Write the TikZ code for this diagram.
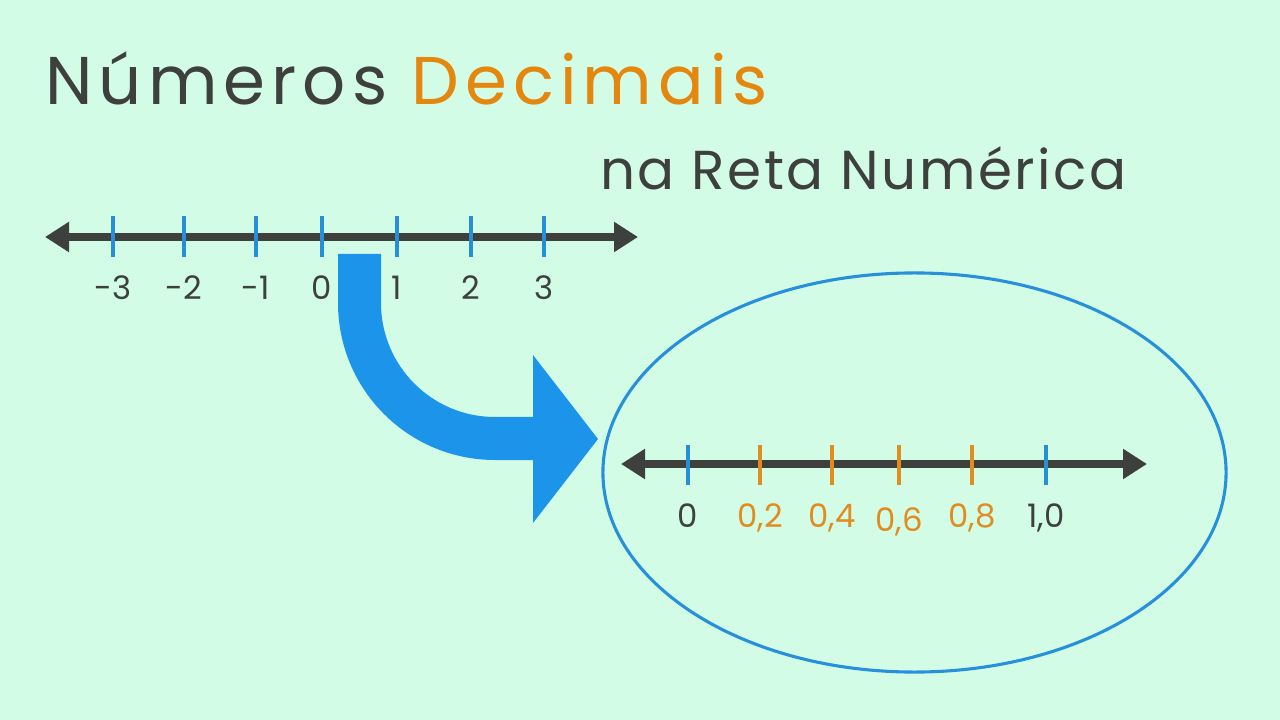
\documentclass[tikz,border=0pt]{standalone}
\usepackage{fontspec}
\setmainfont{Poppins}
\newfontfamily\titlefont{Poppins}[LetterSpace=9]
\newfontfamily\subtitlefont{Poppins}[LetterSpace=4.5]
\usetikzlibrary{arrows.meta}
\usetikzlibrary{shapes}

\definecolor{bgmint}{RGB}{211,252,230}
\definecolor{inkgray}{RGB}{62,64,62}
\definecolor{numorange}{RGB}{228,135,15}
\definecolor{tickorange}{RGB}{224,140,30}
\definecolor{tickblue}{RGB}{40,142,214}
\definecolor{arrowblue}{RGB}{27,148,234}
\definecolor{ringblue}{RGB}{40,144,218}

\begin{document}
\begin{tikzpicture}[x=0.025cm, y=-0.025cm,
    numline/.style={draw=inkgray, line width=5.5pt,
        {Triangle[length=0.6cm, width=0.72cm]}-{Triangle[length=0.6cm, width=0.72cm]}},
    tickmark/.style={line width=2.6pt},
    numlabel/.style={font=\fontsize{23}{25}\selectfont, anchor=base, inner sep=0pt}]

    % Declare the background
    \fill[bgmint] (0, 0) rectangle (1280, 720);
    \useasboundingbox (0, 0) rectangle (1280, 720);

    % Declare the titles
    \node[anchor=base west, inner sep=0pt, font=\titlefont\fontsize{48}{50}\selectfont, text=inkgray]
        at (45, 105) (title) {Números \textcolor{numorange}{Decimais}};
    \node[anchor=base west, inner sep=0pt, font=\subtitlefont\fontsize{39}{41}\selectfont, text=inkgray]
        at (600, 190) (subtitle) {na Reta Numérica};

    % Declare the integer line
    \coordinate (topL) at (45, 237);
    \coordinate (topR) at (638, 237);
    \draw[numline] (topL) -- (topR);
    \foreach \x/\lab [count=\i] in {113/-3, 184/-2, 256/-1, 322/0, 397/1, 471/2, 544/3} {
        \draw[tickmark, draw=tickblue] (\x, 216) -- (\x, 257);
        \node[numlabel, text=inkgray] at (\x, 300) (topnum\i) {\lab};
    }

    % Declare the big arrow
    \fill[arrowblue] (338, 254) -- (381, 254) -- (381, 303)
        arc[start angle=180, end angle=90, radius=114]
        -- (533, 417) -- (533, 355) -- (598, 439) -- (533, 523) -- (533, 460) -- (495, 460)
        arc[start angle=90, end angle=180, radius=157] -- cycle;

    % Declare the zoom ellipse
    \node[draw=ringblue, line width=2.2pt, ellipse, inner sep=0pt,
        minimum width=15.575cm, minimum height=9.975cm] at (914.5, 472.5) (zoom) {};

    % Declare the decimal line
    \coordinate (botL) at (621, 464);
    \coordinate (botR) at (1147, 464);
    \draw[numline] (botL) -- (botR);
    \foreach \x/\lab/\col/\txt/\ly [count=\i] in {688/0/tickblue/inkgray/527,
            760/{0,2}/tickorange/tickorange/527, 832/{0,4}/tickorange/tickorange/527,
            899/{0,6}/tickorange/tickorange/531, 972/{0,8}/tickorange/tickorange/527,
            1046/{1,0}/tickblue/inkgray/527} {
        \draw[tickmark, draw=\col] (\x, 445) -- (\x, 485);
        \node[numlabel, text=\txt] at (\x, \ly) (botnum\i) {\lab};
    }

\end{tikzpicture}
\end{document}
